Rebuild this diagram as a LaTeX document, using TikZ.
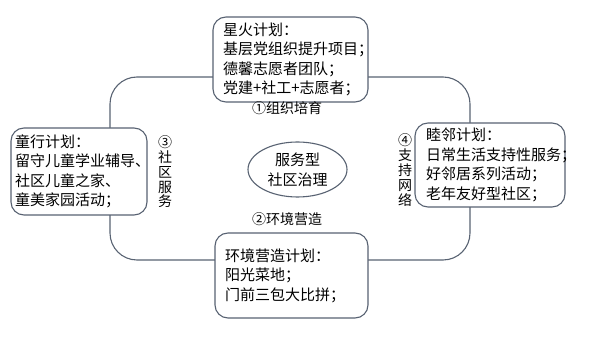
\documentclass[tikz,border=0pt]{standalone}
\usepackage{fontspec}
\setmainfont{Noto Sans CJK SC}
\usepackage{xcolor}
\usepackage{tikz}
\usetikzlibrary{positioning,shapes.geometric}
\definecolor{loopgray}{RGB}{88,98,114}

\begin{document}
\begin{tikzpicture}[x=1pt, y=-1pt,
    plan/.style={draw=loopgray, line width=1.1pt, rounded corners=13pt, fill=white, align=left, inner ysep=4pt, font=\fontsize{15}{19.5}\selectfont},
    tag/.style={font=\fontsize{14}{16}\selectfont, inner sep=1pt},
    vtag/.style={font=\fontsize{14}{14.8}\selectfont, align=center, inner sep=1pt},
]
\useasboundingbox (0,0) rectangle (605,344);
\coordinate (tl) at (110,77);
\coordinate (tr) at (470,77);
\coordinate (br) at (470,260);
\coordinate (bl) at (110,260);
\draw[loopgray, line width=1.1pt, rounded corners=27pt] (tl) -- (tr) -- (br) -- (bl) -- cycle;

\node[plan, inner xsep=10pt, text width=135pt, minimum height=85pt] (xinghuo) at (290.5,59.5) {星火计划：\\基层党组织提升项目；\\德馨志愿者团队；\\党建+社工+志愿者；};
\node[plan, inner xsep=4pt, text width=128pt, minimum height=87pt] (tongxing) at (79,171.5) {童行计划：\\留守儿童学业辅导、\\社区儿童之家、\\童美家园活动；};
\node[plan, inner xsep=11pt, text width=128pt, minimum height=84pt] (mulin) at (490,165) {睦邻计划：\\日常生活支持性服务；\\好邻居系列活动；\\老年友好型社区；};
\node[plan, inner xsep=10pt, text width=133pt, minimum height=85pt] (huanjing) at (291.5,275.5) {环境营造计划：\\阳光菜地；\\门前三包大比拼；};

\node[draw=loopgray, line width=1.1pt, ellipse, minimum width=99pt, minimum height=55pt, align=center, inner sep=0pt, font=\fontsize{15}{20}\selectfont] (core) at (297.5,169.5) {服务型\\社区治理};

\node[tag] (peiyu) at (287,108) {①组织培育};
\node[tag] (yingzao) at (287,219) {②环境营造};
\node[vtag] (fuwu) at (165,172) {③\\社\\区\\服\\务};
\node[vtag] (wangluo) at (405,170) {④\\支\\持\\网\\络};
\end{tikzpicture}
\end{document}
